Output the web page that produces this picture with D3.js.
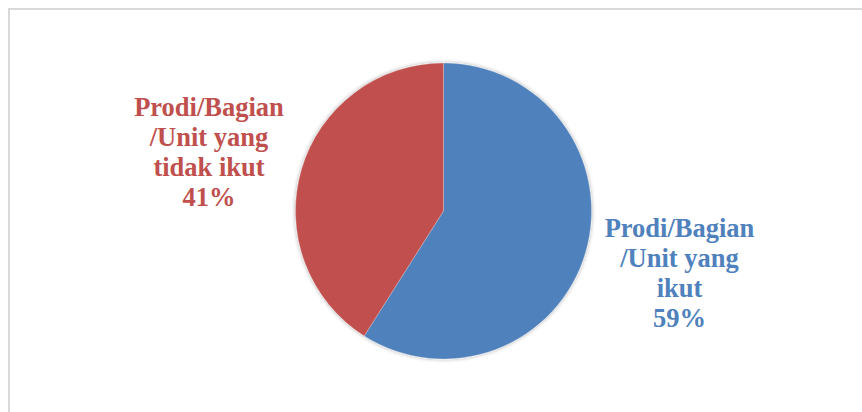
<!DOCTYPE html>
<html>
<head>
<meta charset="utf-8">
<script src="https://cdn.jsdelivr.net/npm/d3@7"></script>
<style>
  html, body { margin: 0; padding: 0; background: #ffffff; }
  svg { display: block; }
</style>
</head>
<body>
<script>
const categories = ["Prodi/Bagian /Unit yang ikut", "Prodi/Bagian /Unit yang tidak ikut"];
const values = [59, 41];
const labelLines = [
  ["Prodi/Bagian", "/Unit yang", "ikut", "59%"],
  ["Prodi/Bagian", "/Unit yang", "tidak ikut", "41%"]
];
const colors = ["#4F81BD", "#C0504D"];

const W = 862, H = 412;
const svg = d3.select("body").append("svg").attr("width", W).attr("height", H);

// chart border (only top/left visible in the crop)
svg.append("rect")
  .attr("x", 9).attr("y", 9)
  .attr("width", W + 10).attr("height", H + 10)
  .attr("fill", "#ffffff")
  .attr("stroke", "#d9d9d9")
  .attr("stroke-width", 2);

const defs = svg.append("defs");
const f = defs.append("filter").attr("id", "shadow")
  .attr("x", "-10%").attr("y", "-10%").attr("width", "120%").attr("height", "120%");
f.append("feGaussianBlur").attr("in", "SourceAlpha").attr("stdDeviation", 2).attr("result", "blur");
f.append("feOffset").attr("in", "blur").attr("dx", 0).attr("dy", 0).attr("result", "off");
f.append("feComponentTransfer").attr("in", "off").attr("result", "sh")
  .append("feFuncA").attr("type", "linear").attr("slope", 0.35);
const fm = f.append("feMerge");
fm.append("feMergeNode").attr("in", "sh");
fm.append("feMergeNode").attr("in", "SourceGraphic");

const cx = 443.5, cy = 211, r = 148;
const pie = d3.pie().sort(null).value(d => d)(values);
const arc = d3.arc().innerRadius(0).outerRadius(r);

const g = svg.append("g").attr("transform", `translate(${cx},${cy})`);
g.append("g").attr("filter", "url(#shadow)")
  .selectAll("path").data(pie).join("path")
  .attr("d", arc)
  .attr("fill", (d, i) => colors[i])
  .attr("stroke", "rgba(255,255,255,0.35)")
  .attr("stroke-width", 0.7);

// labels
const labelPos = [
  { x: 679.5, y: 237 },
  { x: 209, y: 116 }
];
const lineH = 30;
labelLines.forEach((lines, i) => {
  const t = svg.append("text")
    .attr("x", labelPos[i].x).attr("y", labelPos[i].y)
    .attr("text-anchor", "middle")
    .attr("font-family", "'Liberation Serif', 'Times New Roman', serif")
    .attr("font-weight", "bold")
    .attr("font-size", 26.5)
    .attr("fill", colors[i]);
  lines.forEach((ln, j) => {
    t.append("tspan").attr("x", labelPos[i].x).attr("y", labelPos[i].y + j * lineH).text(ln);
  });
});
</script>
</body>
</html>
